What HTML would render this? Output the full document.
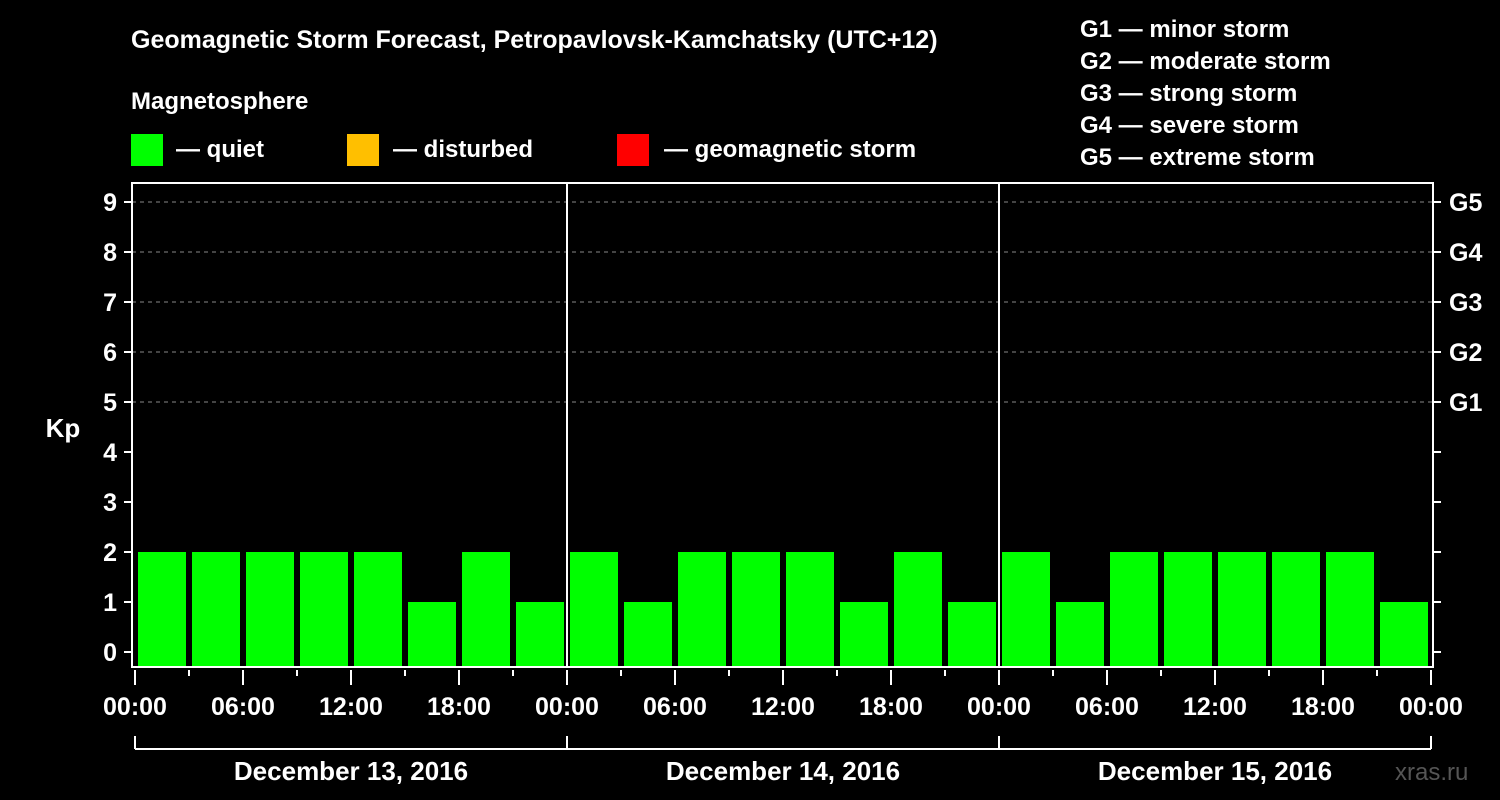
<!DOCTYPE html>
<html><head><meta charset="utf-8"><style>
body{margin:0;background:#000;}
svg{display:block;font-family:"Liberation Sans",Arial,sans-serif;font-weight:bold;}
</style></head><body>
<svg id="c" width="1500" height="800" viewBox="0 0 1500 800">
<rect width="1500" height="800" fill="#000"/>
<text x="131" y="48" font-size="25" fill="#fff">Geomagnetic Storm Forecast, Petropavlovsk-Kamchatsky (UTC+12)</text>
<text x="131" y="109" font-size="24" fill="#fff">Magnetosphere</text>
<g><rect x="131" y="134" width="32" height="32" fill="#00ff00"/><text x="176" y="157" font-size="24" fill="#fff">— quiet</text></g>
<g><rect x="347" y="134" width="32" height="32" fill="#ffbf00"/><text x="393" y="157" font-size="24" fill="#fff">— disturbed</text></g>
<g><rect x="617" y="134" width="32" height="32" fill="#ff0000"/><text x="664" y="157" font-size="24" fill="#fff">— geomagnetic storm</text></g>
<g font-size="24" fill="#fff">
<text x="1080" y="37">G1 — minor storm</text>
<text x="1080" y="69">G2 — moderate storm</text>
<text x="1080" y="101">G3 — strong storm</text>
<text x="1080" y="133">G4 — severe storm</text>
<text x="1080" y="165">G5 — extreme storm</text>
</g>
<text x="63" y="437" font-size="26" fill="#fff" text-anchor="middle">Kp</text>
<text x="1395" y="780" font-size="24" fill="#555" font-weight="normal">xras.ru</text>
<g id="g"></g>
</svg>
<script>
const kpValues=[2,2,2,2,2,1,2,1, 2,1,2,2,2,1,2,1, 2,1,2,2,2,2,2,1];
const dayLabels=["December 13, 2016","December 14, 2016","December 15, 2016"];
const xTickLabels=["00:00","06:00","12:00","18:00"];
const yTicks=[0,1,2,3,4,5,6,7,8,9];
const gLabels=["G1","G2","G3","G4","G5"];
const NS="http://www.w3.org/2000/svg",g=document.getElementById('g');
const X0=135,SLOT=54,L=132,R=1433,T=183,B=667;
const y=v=>652-v*50;
const x=i=>X0+i*SLOT;
function mk(t,a,p){const e=document.createElementNS(NS,t);for(const k in a)e.setAttribute(k,a[k]);(p||g).appendChild(e);return e;}
// gridlines
for(let v=5;v<=9;v++){const l=mk('line',{x1:L,x2:R,y1:y(v),y2:y(v),stroke:'#888','stroke-dasharray':'4,4','stroke-width':1});

}
// bars
kpValues.forEach((v,i)=>{const c=v>=5?'#ff0000':(v>=4?'#ffbf00':'#00ff00');
const r=mk('rect',{x:x(i)+3,y:y(v),width:SLOT-6,height:B-y(v),fill:c});

});
// day separators
for(let d=1;d<dayLabels.length;d++){const l=mk('line',{x1:x(d*8),x2:x(d*8),y1:T,y2:B,stroke:'#fff','stroke-width':2});

}
// frame
const f=mk('rect',{x:L,y:T,width:R-L,height:B-T,fill:'none',stroke:'#fff','stroke-width':2});


// y ticks
yTicks.forEach(v=>{mk('line',{x1:L-8,x2:L,y1:y(v),y2:y(v),stroke:'#fff','stroke-width':2});
mk('line',{x1:R,x2:R+8,y1:y(v),y2:y(v),stroke:'#fff','stroke-width':2});
const t=mk('text',{x:L-15,y:y(v)+9,'font-size':25,fill:'#fff','text-anchor':'end'});t.textContent=v;

});
gLabels.forEach((s,i)=>{const t=mk('text',{x:1449,y:y(5+i)+9,'font-size':25,fill:'#fff'});t.textContent=s;

});
// x ticks
for(let i=0;i<=kpValues.length;i++){const maj=i%2==0;
mk('line',{x1:x(i),x2:x(i),y1:B+3,y2:B+(maj?18:9),stroke:'#fff','stroke-width':2});
if(maj){const t=mk('text',{x:x(i),y:715,'font-size':25,fill:'#fff','text-anchor':'middle'});t.textContent=xTickLabels[(i/2)%4];

}}
// day brackets
mk('line',{x1:x(0),x2:x(24),y1:749,y2:749,stroke:'#fff','stroke-width':2});
for(let d=0;d<=dayLabels.length;d++)mk('line',{x1:x(d*8),x2:x(d*8),y1:736,y2:749,stroke:'#fff','stroke-width':2});
dayLabels.forEach((s,d)=>{const t=mk('text',{x:x(d*8+4),y:780,'font-size':26,fill:'#fff','text-anchor':'middle'});t.textContent=s;

});
</script>
</body></html>
